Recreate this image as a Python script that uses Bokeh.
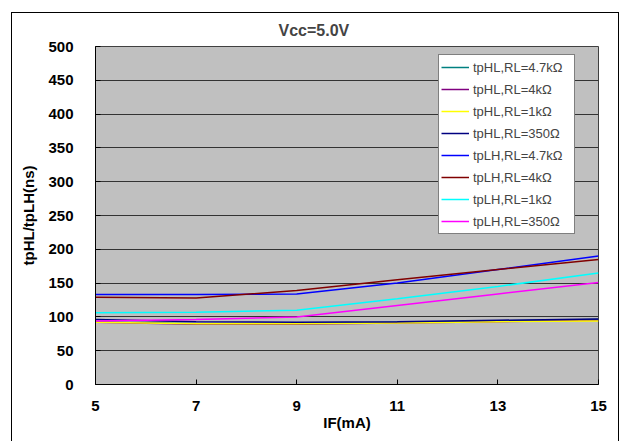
from bokeh.plotting import figure
from bokeh.models import Legend, LegendItem, FixedTicker, Range1d
from bokeh.embed import file_html
from bokeh.resources import INLINE

IF_mA = [5, 7, 9, 11, 13, 15]
tpHL_47k = [93, 90, 90, 92, 94, 96]
tpHL_4k = [92, 89, 89, 91, 93, 95]
tpHL_1k = [92, 90, 90, 91, 93, 94]
tpHL_350 = [96, 93, 92, 93, 95, 97]
tpLH_47k = [133, 133, 134, 150, 170, 190]
tpLH_4k = [129, 128, 139, 155, 170, 185]
tpLH_1k = [106, 107, 110, 127, 145, 165]
tpLH_350 = [94, 96, 100, 117, 134, 151]
TITLE = "Vcc=5.0V"

series = [
    ("tpHL,RL=4.7kΩ", tpHL_47k, "#008080"),
    ("tpHL,RL=4kΩ", tpHL_4k, "#800080"),
    ("tpHL,RL=1kΩ", tpHL_1k, "#ffff00"),
    ("tpHL,RL=350Ω", tpHL_350, "#000080"),
    ("tpLH,RL=4.7kΩ", tpLH_47k, "#0000ff"),
    ("tpLH,RL=4kΩ", tpLH_4k, "#800000"),
    ("tpLH,RL=1kΩ", tpLH_1k, "#00ffff"),
    ("tpLH,RL=350Ω", tpLH_350, "#ff00ff"),
]

FONT = "Liberation Sans"

p = figure(width=608, height=430, output_backend="svg", toolbar_location=None,
           x_range=Range1d(5, 15), y_range=Range1d(0, 500),
           min_border_left=83, min_border_right=22, min_border_top=33, min_border_bottom=59,
           title=TITLE)
p.margin = (12, 0, 0, 11)
p.styles = {"border": "1px solid #000000"}

p.title.align = "left"
p.title.text_font = FONT
p.title.text_font_size = "16px"
p.title.text_font_style = "bold"
p.title.offset = 183
p.title.standoff = 14
p.title.vertical_align = "middle"

p.background_fill_color = "#c0c0c0"
p.border_fill_color = "#ffffff"
p.outline_line_color = "#404040"
p.outline_line_width = 1

p.xgrid.grid_line_color = None
p.ygrid.grid_line_color = "#333333"
p.ygrid.grid_line_width = 1

p.xaxis.ticker = FixedTicker(ticks=IF_mA)
p.yaxis.ticker = FixedTicker(ticks=list(range(0, 501, 50)))
for ax in (p.xaxis[0], p.yaxis[0]):
    ax.axis_line_color = "#000000"
    ax.major_tick_in = 5
    ax.major_tick_out = 0
    ax.minor_tick_line_color = None
    ax.major_label_text_font = FONT
    ax.major_label_text_font_size = "15px"
    ax.major_label_text_font_style = "bold"
    ax.major_label_text_color = "#000000"
    ax.axis_label_text_font = FONT
    ax.axis_label_text_font_size = "15px"
    ax.axis_label_text_font_style = "bold"
    ax.axis_label_text_color = "#000000"

p.xaxis.axis_label = "IF(mA)"
p.xaxis.major_label_standoff = 16
p.xaxis.axis_label_standoff = 0
p.yaxis.axis_label = "tpHL/tpLH(ns)"
p.yaxis.major_label_standoff = 22
p.yaxis.axis_label_standoff = 8

items = []
for name, vals, color in series:
    r = p.line(IF_mA, vals, line_color=color, line_width=1.5)
    items.append(LegendItem(label=name, renderers=[r]))

legend = Legend(items=items, location=(343, 150))
legend.label_text_font = FONT
legend.label_text_font_size = "13px"
legend.border_line_color = "#000000"
legend.border_line_width = 1
legend.background_fill_color = "#ffffff"
legend.background_fill_alpha = 1
legend.padding = 2
legend.spacing = 2
legend.margin = 0
legend.glyph_height = 20
legend.label_height = 20
legend.glyph_width = 28
legend.label_standoff = 4
legend.label_width = 99
p.add_layout(legend, "center")

open("out.html", "w").write(file_html(p, INLINE))
